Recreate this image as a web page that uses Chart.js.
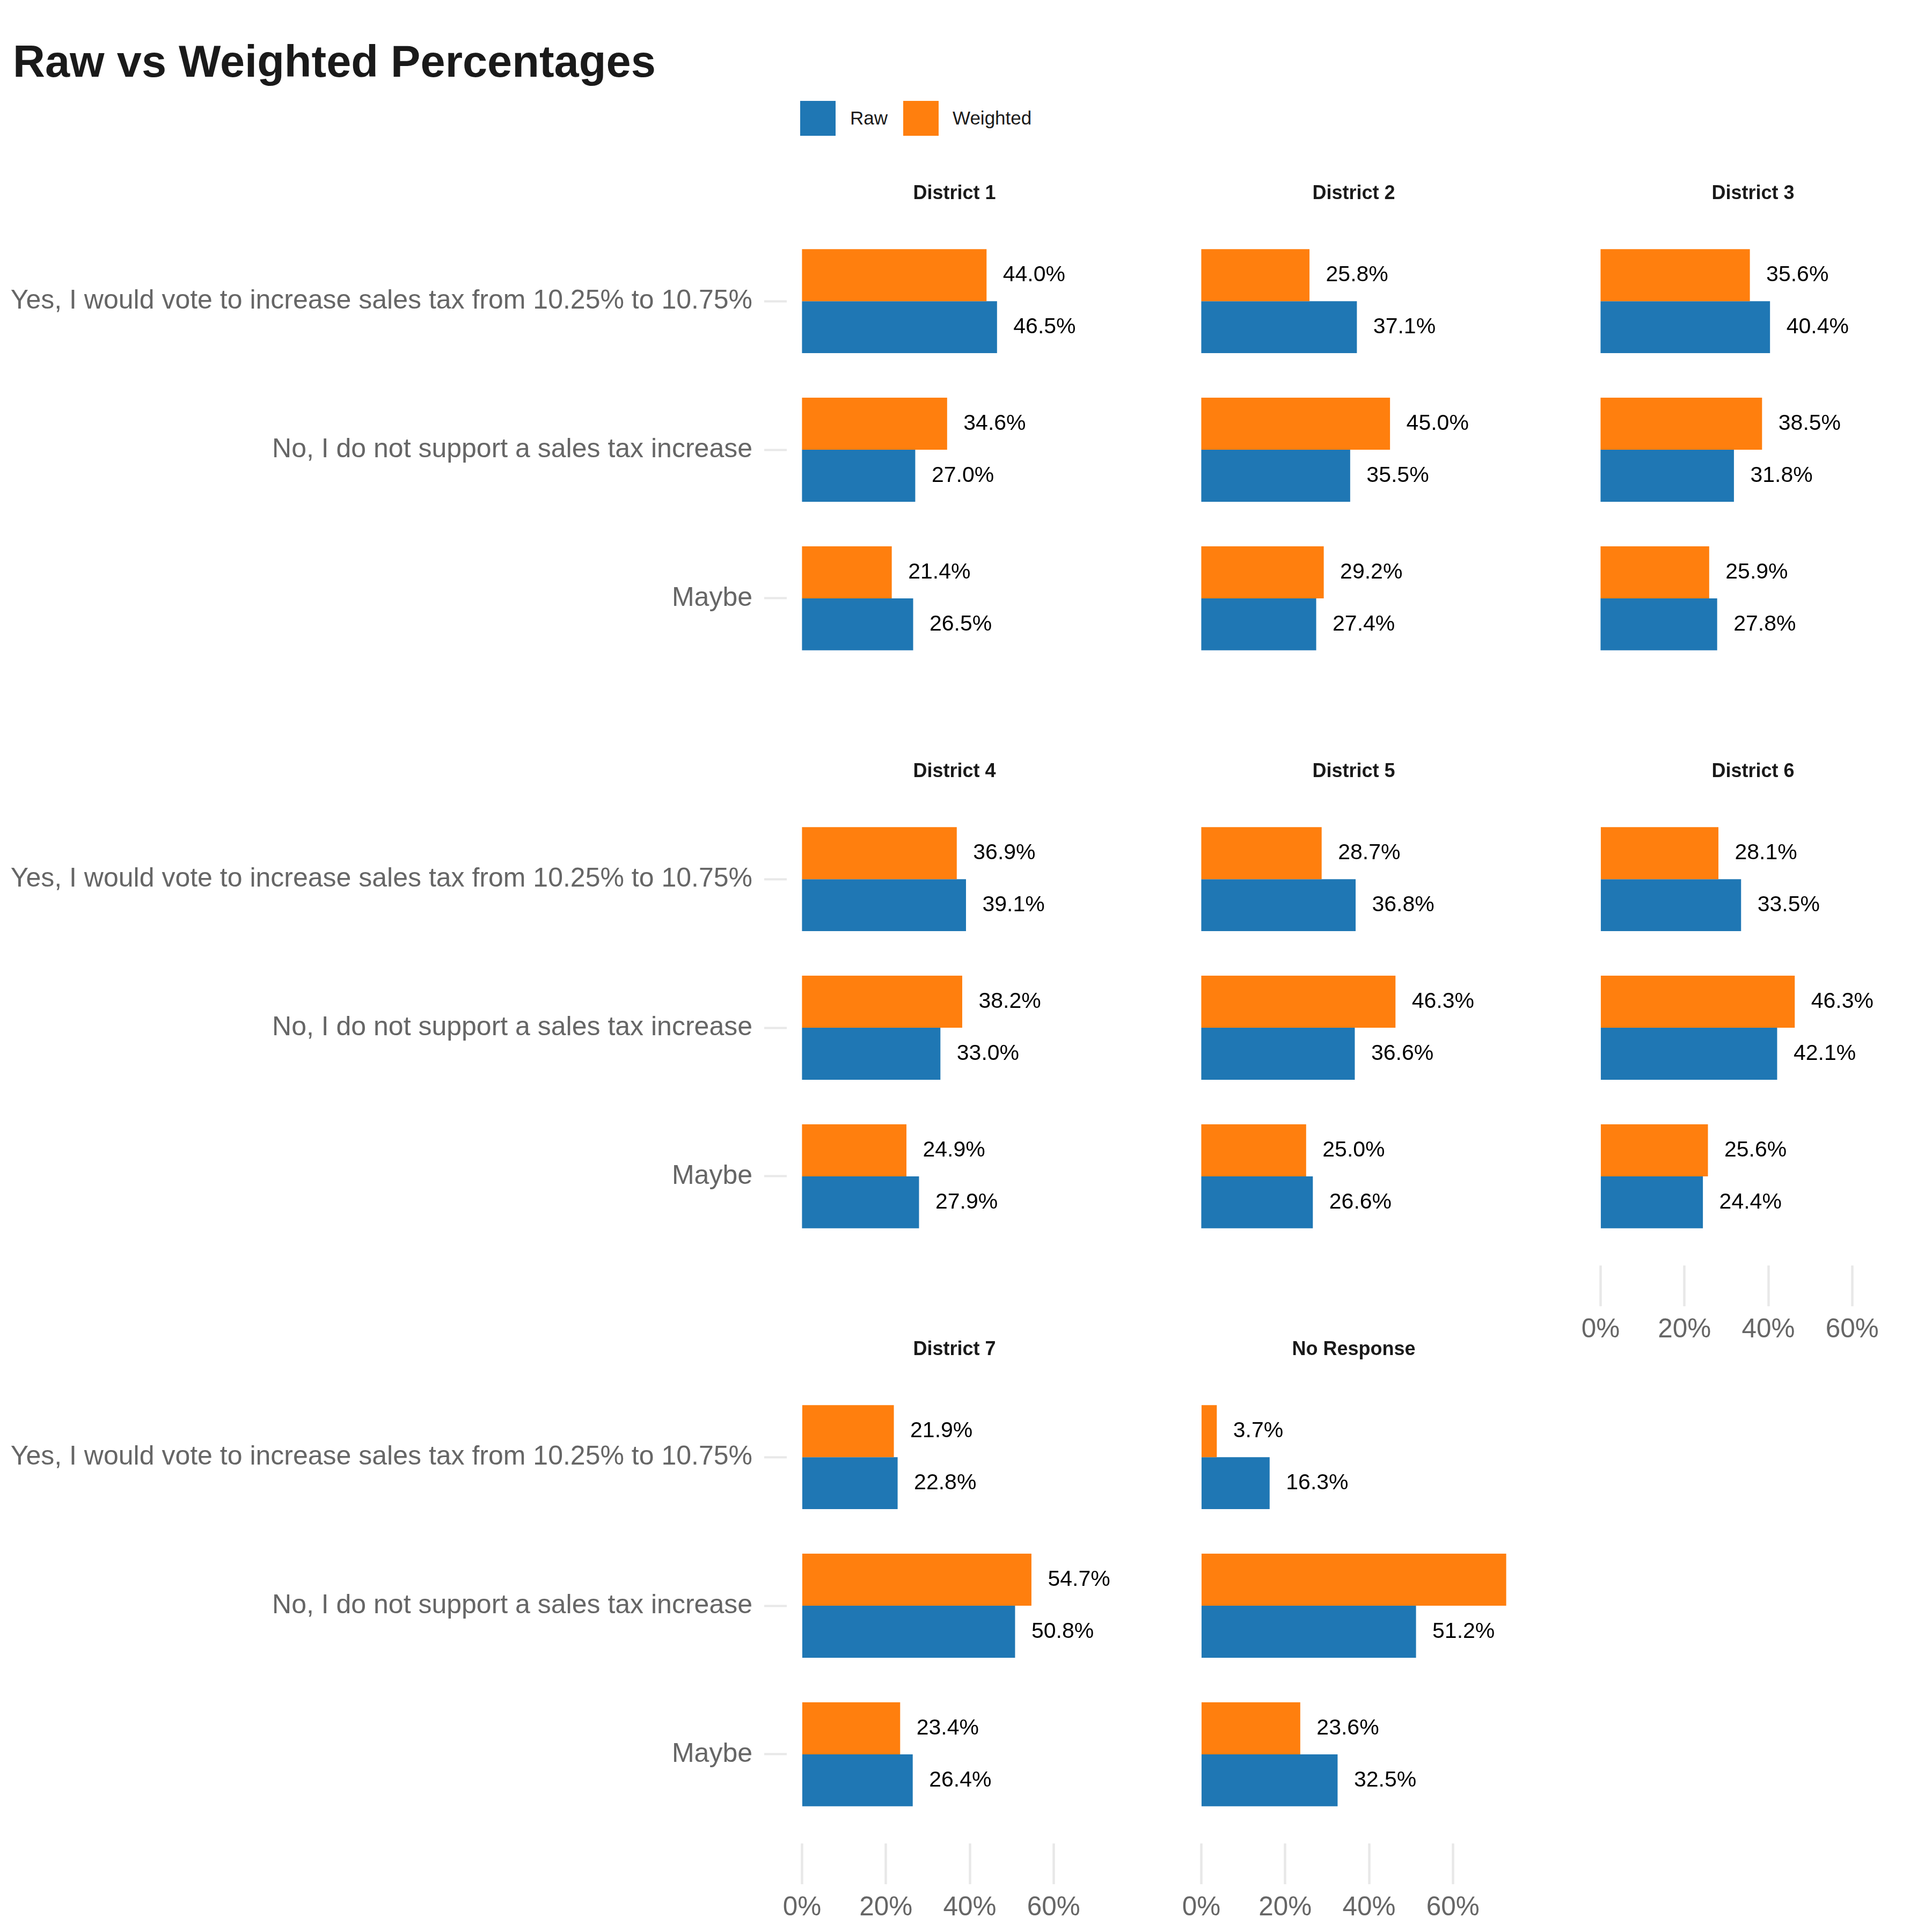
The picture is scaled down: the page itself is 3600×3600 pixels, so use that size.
<!DOCTYPE html>
<html>
<head>
<meta charset="utf-8">
<script src="https://cdn.jsdelivr.net/npm/chart.js@4.4.1/dist/chart.umd.min.js"></script>
<style>
html,body{margin:0;padding:0;background:#fff;}
#root{position:relative;width:3600px;height:3600px;background:#fff;overflow:hidden;font-family:"Liberation Sans",Arial,Helvetica,sans-serif;}
#root canvas{position:absolute;}
.main-title{position:absolute;left:24px;top:74px;font-size:83px;line-height:82px;font-weight:bold;color:#1a1a1a;white-space:nowrap;}
.sw{position:absolute;width:66px;height:65px;top:188px;}
.lt{position:absolute;font-size:35px;line-height:40px;top:200px;color:#1a1a1a;white-space:nowrap;}
</style>
</head>
<body>
<div id="root">
  <div class="main-title">Raw vs Weighted Percentages</div>
  <div class="sw" id="swRaw" style="left:1491px;"></div>
  <div class="lt" id="ltRaw" style="left:1584px;"></div>
  <div class="sw" id="swWeighted" style="left:1683px;"></div>
  <div class="lt" id="ltWeighted" style="left:1775px;"></div>
</div>
<script>
// ---------------- DATA ----------------
const districts = ['District 1', 'District 2', 'District 3', 'District 4', 'District 5', 'District 6', 'District 7', 'No Response'];
const categories = [
  'Yes, I would vote to increase sales tax from 10.25% to 10.75%',
  'No, I do not support a sales tax increase',
  'Maybe'
];
const seriesNames = ['Raw', 'Weighted'];
// values per district, in category order (Yes, No, Maybe)
const rawValues = [
  [46.5, 27.0, 26.5],
  [37.1, 35.5, 27.4],
  [40.4, 31.8, 27.8],
  [39.1, 33.0, 27.9],
  [36.8, 36.6, 26.6],
  [33.5, 42.1, 24.4],
  [22.8, 50.8, 26.4],
  [16.3, 51.2, 32.5]
];
const weightedValues = [
  [44.0, 34.6, 21.4],
  [25.8, 45.0, 29.2],
  [35.6, 38.5, 25.9],
  [36.9, 38.2, 24.9],
  [28.7, 46.3, 25.0],
  [28.1, 46.3, 25.6],
  [21.9, 54.7, 23.4],
  [3.7, 72.7, 23.6]
];
const xTickValues = [0, 20, 40, 60];

// ---------------- STYLE / LAYOUT ----------------
const BLUE = '#1f77b4', ORANGE = '#ff7f0e';
const FONT = '"Liberation Sans", Arial, Helvetica, sans-serif';
const NCOL = 3;
const PANEL_LEFT0 = 1466, COL_PITCH = 744, PANEL_W = 625;
const PANEL_TOP0 = 395, ROW_PITCH = 1077, PANEL_H = 886;
const STRIP_H = 80, AXIS_H = 170, SIDE_PAD = 60;
const EXPAND = 0.05;       // continuous axis expansion
const CAT_EXPAND = 0.6;    // discrete axis expansion
const LABEL_NUDGE = 3.9;   // label offset in value units

Chart.defaults.font.family = FONT;

document.getElementById('swRaw').style.background = BLUE;
document.getElementById('swWeighted').style.background = ORANGE;
document.getElementById('ltRaw').textContent = seriesNames[0];
document.getElementById('ltWeighted').textContent = seriesNames[1];

const allValues = rawValues.flat().concat(weightedValues.flat());
const dataMax = Math.max(...allValues);
const xMin = -EXPAND * dataMax;
const xMax = dataMax * (1 + EXPAND);

const valueLabels = {
  id: 'valueLabels',
  afterDatasetsDraw(chart) {
    const {ctx} = chart;
    const xs = chart.scales.x;
    ctx.save();
    ctx.font = '41px ' + FONT;
    ctx.fillStyle = '#000000';
    ctx.textBaseline = 'middle';
    ctx.textAlign = 'left';
    chart.data.datasets.forEach((ds, di) => {
      const meta = chart.getDatasetMeta(di);
      meta.data.forEach((bar, k) => {
        const v = ds.data[k].x;
        const pos = v + LABEL_NUDGE;
        if (pos > xs.max) return; // out of scale limits: dropped
        ctx.fillText(v.toFixed(1) + '%', xs.getPixelForValue(pos), bar.y);
      });
    });
    ctx.restore();
  }
};

const root = document.getElementById('root');

function makePanel(i) {
  const col = i % NCOL, row = Math.floor(i / NCOL);
  const isBottom = i + NCOL >= districts.length;
  const isFirstCol = col === 0;
  const panelLeft = PANEL_LEFT0 + col * COL_PITCH;
  const panelTop = PANEL_TOP0 + row * ROW_PITCH;
  const leftSpace = isFirstCol ? panelLeft : SIDE_PAD;
  const w = leftSpace + PANEL_W;
  const h = STRIP_H + PANEL_H + (isBottom ? AXIS_H : 0);
  const canvas = document.createElement('canvas');
  canvas.width = w; canvas.height = h;
  canvas.style.left = (panelLeft - leftSpace) + 'px';
  canvas.style.top = (panelTop - STRIP_H) + 'px';
  canvas.style.width = w + 'px';
  canvas.style.height = h + 'px';
  root.appendChild(canvas);

  const fitY = (s) => { s.width = leftSpace; s.paddingTop = 0; s.paddingBottom = 0; };

  const yAxis = isFirstCol ? {
    type: 'linear', min: -CAT_EXPAND, max: categories.length - 1 + CAT_EXPAND, reverse: true,
    offset: false,
    display: true,
    grid: {display: true, offset: false, drawOnChartArea: false, drawTicks: true, tickLength: 42, tickColor: '#e8e8e8', tickWidth: 4},
    border: {display: false},
    ticks: {padding: 22, color: '#666666', font: {size: 50}, autoSkip: false,
            callback: (v) => categories[v]},
    afterBuildTicks: (s) => { s.ticks = categories.map((_, k) => ({value: k})); },
    afterFit: fitY
  } : {
    type: 'linear', min: -CAT_EXPAND, max: categories.length - 1 + CAT_EXPAND, reverse: true,
    offset: false,
    display: true,
    grid: {display: false, offset: false},
    border: {display: false},
    ticks: {display: false},
    afterBuildTicks: (s) => { s.ticks = categories.map((_, k) => ({value: k})); },
    afterFit: fitY
  };

  const xAxis = {
    type: 'linear', min: xMin, max: xMax,
    offset: false,
    display: isBottom,
    grid: {display: true, offset: false, drawOnChartArea: false, drawTicks: true, tickLength: 76, tickColor: '#e8e8e8', tickWidth: 4.5},
    border: {display: false},
    ticks: {padding: 15, color: '#666666', font: {size: 49.5}, autoSkip: false, maxRotation: 0,
            callback: (v) => v + '%'},
    afterBuildTicks: (s) => { s.ticks = xTickValues.map(v => ({value: v})); },
    afterFit: (s) => { if (isBottom) s.height = AXIS_H; }
  };

  new Chart(canvas, {
    type: 'bar',
    data: {
      datasets: [
        {label: seriesNames[1], data: weightedValues[i].map((v, k) => ({x: v, y: k})),
         backgroundColor: ORANGE, borderWidth: 0, categoryPercentage: 0.7, barPercentage: 1.0},
        {label: seriesNames[0], data: rawValues[i].map((v, k) => ({x: v, y: k})),
         backgroundColor: BLUE, borderWidth: 0, categoryPercentage: 0.7, barPercentage: 1.0}
      ]
    },
    options: {
      indexAxis: 'y',
      responsive: false,
      animation: false,
      devicePixelRatio: 1,
      events: [],
      layout: {padding: 0},
      plugins: {
        legend: {display: false},
        tooltip: {enabled: false},
        title: {display: true, text: districts[i], fullSize: false, color: '#1a1a1a',
                font: {size: 36, weight: 'bold', lineHeight: 1.2}, padding: {top: 24.4, bottom: 12.4}}
      },
      scales: {x: xAxis, y: yAxis}
    },
    plugins: [valueLabels]
  });
}

districts.forEach((_, i) => makePanel(i));
</script>
</body>
</html>
